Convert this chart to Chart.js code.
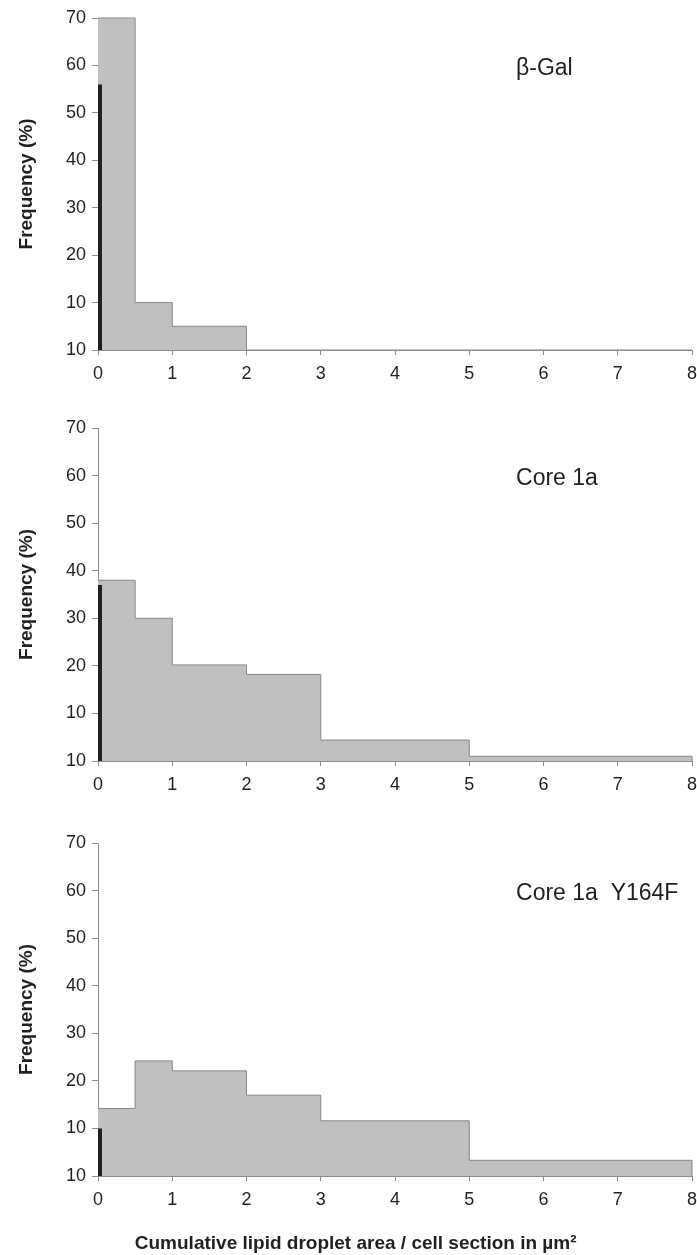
<!DOCTYPE html>
<html>
<head>
<meta charset="utf-8">
<script src="https://cdn.jsdelivr.net/npm/chart.js@4.4.1/dist/chart.umd.min.js"></script>
<style>
  html, body { margin: 0; padding: 0; background: #fff; overflow: hidden; }
  canvas { position: absolute; left: 0; }
</style>
</head>
<body>
<canvas id="galChart" width="697" height="400" style="top:0px"></canvas>
<canvas id="coreChart" width="697" height="401" style="top:410px"></canvas>
<canvas id="mutantChart" width="697" height="430" style="top:825px"></canvas>
<script>
// bin edges along x (µm²); the last one closes the final bin
const binEdges = [0, 0.5, 1, 2, 3, 5, 8];
const xTickLabels = ['0', '1', '2', '3', '4', '5', '6', '7', '8'];
// the original figure labels its zero line "10" too
const yTickLabels = ['10', '10', '20', '30', '40', '50', '60', '70'];

// frequency (%) per bin
const galValues = [70, 10, 5, 0, 0, 0];
const coreValues = [38, 30, 20.2, 18.2, 4.4, 1];
const mutantValues = [14.2, 24.2, 22.1, 17, 11.6, 3.3];

// cells with no droplet area (black bar at 0)
const galZero = 56;
const coreZero = 37;
const mutantZero = 10;

const panelNames = ['β-Gal', 'Core 1a', 'Core 1a  Y164F'];
const xTitle = 'Cumulative lipid droplet area / cell section in µm²';

const fontFamily = '"Liberation Sans", Arial, sans-serif';
const textColor = '#231f20';
const axisColor = '#8c8c8c';
const barFill = '#c0c0c0';
const barLine = '#888888';
const zeroBarWidth = 0.055;

// turn bin values into a closed step outline
function stepPoints(values) {
  const pts = values.map((v, i) => ({x: binEdges[i], y: v}));
  const end = binEdges[binEdges.length - 1];
  pts.push({x: end, y: values[values.length - 1]});
  pts.push({x: end, y: 0});
  return pts;
}

// panel name inside the plot, and the shared x title under the last panel
const panelText = {
  id: 'panelText',
  afterDatasetsDraw(chart, args, opts) {
    const {ctx, scales} = chart;
    ctx.save();
    ctx.fillStyle = textColor;
    ctx.textBaseline = 'middle';
    ctx.textAlign = 'left';
    ctx.font = '23px ' + fontFamily;
    ctx.fillText(opts.text, scales.x.getPixelForValue(5.63), scales.y.getPixelForValue(59.3));
    if (opts.xTitle) {
      ctx.textAlign = 'center';
      ctx.font = 'bold 19px ' + fontFamily;
      ctx.fillText(opts.xTitle, scales.x.getPixelForValue(3.47), chart.height - 11);
    }
    ctx.restore();
  }
};

function makePanel(canvasId, values, zeroValue, name, xHeight, withTitle) {
  new Chart(document.getElementById(canvasId), {
    type: 'line',
    data: {
      datasets: [
        {
          // black "zero" bar drawn on top
          data: [{x: 0, y: zeroValue}, {x: zeroBarWidth, y: zeroValue}, {x: zeroBarWidth, y: 0}],
          stepped: true,
          fill: 'origin',
          backgroundColor: textColor,
          borderColor: textColor,
          borderWidth: 0,
          pointRadius: 0,
          clip: 2
        },
        {
          data: stepPoints(values),
          stepped: true,
          fill: 'origin',
          backgroundColor: barFill,
          borderColor: barLine,
          borderWidth: 1,
          pointRadius: 0,
          clip: 2
        }
      ]
    },
    options: {
      responsive: false,
      animation: false,
      layout: { padding: { top: 18, left: 0, right: 0, bottom: 0 } },
      plugins: {
        legend: { display: false },
        tooltip: { enabled: false },
        panelText: { text: name, xTitle: withTitle ? xTitle : null }
      },
      scales: {
        x: {
          type: 'linear',
          min: 0,
          max: 8,
          afterFit: s => { s.height = xHeight; s.paddingRight = 5; s.paddingLeft = 0; },
          ticks: {
            stepSize: 1,
            padding: 8,
            autoSkip: false,
            maxRotation: 0,
            color: textColor,
            font: { family: fontFamily, size: 18 },
            callback: (v, i) => xTickLabels[i]
          },
          grid: { drawOnChartArea: false, tickLength: 5, color: axisColor },
          border: { color: axisColor }
        },
        y: {
          min: 0,
          max: 70,
          afterFit: s => { s.width = 98; },
          ticks: {
            stepSize: 10,
            padding: 6,
            color: textColor,
            font: { family: fontFamily, size: 18 },
            callback: (v, i) => yTickLabels[i]
          },
          grid: { drawOnChartArea: false, tickLength: 6, color: axisColor },
          border: { color: axisColor },
          title: {
            display: true,
            text: 'Frequency (%)',
            color: textColor,
            font: { family: fontFamily, size: 19, weight: 'bold' },
            padding: { top: 15, bottom: 0 }
          }
        }
      }
    },
    plugins: [panelText]
  });
}

makePanel('galChart', galValues, galZero, panelNames[0], 50, false);
makePanel('coreChart', coreValues, coreZero, panelNames[1], 50, false);
makePanel('mutantChart', mutantValues, mutantZero, panelNames[2], 79, true);
</script>
</body>
</html>
